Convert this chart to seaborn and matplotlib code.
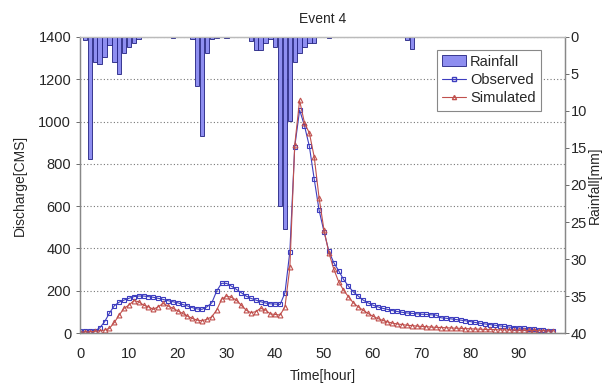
import matplotlib
matplotlib.use('Agg')

import numpy as np
import matplotlib.pyplot as plt
import seaborn as sns
from matplotlib.patches import Patch
from matplotlib.lines import Line2D

# --- data ---
hours = list(range(98))

observed = [8, 8, 9, 10, 24, 53, 94, 129, 146, 156,
            164, 172, 175, 175, 172, 169, 164, 159, 153, 148,
            143, 135, 128, 120, 114, 112, 124, 143, 199, 235,
            235, 222, 207, 191, 175, 164, 156, 148, 142, 138,
            137, 135, 190, 385, 880, 1055, 980, 883, 727, 580,
            480, 387, 333, 295, 254, 222, 195, 175, 156, 143,
            132, 124, 117, 112, 106, 102, 98, 95, 93, 91,
            89, 88, 86, 85, 72, 70, 67, 64, 61, 58,
            54, 50, 46, 43, 40, 37, 34, 31, 28, 26,
            24, 22, 20, 17, 15, 13, 11, 10]

simulated = [5, 5, 6, 8, 10, 14, 22, 50, 85, 117,
             132, 153, 148, 132, 124, 112, 124, 140, 128, 117,
             105, 93, 80, 69, 61, 58, 65, 77, 109, 159,
             175, 169, 156, 132, 109, 96, 101, 117, 109, 90,
             88, 85, 124, 310, 889, 1100, 993, 946, 832, 638,
             487, 380, 303, 243, 203, 172, 143, 124, 108, 93,
             80, 69, 60, 53, 47, 43, 40, 37, 35, 33,
             31, 30, 28, 27, 26, 25, 24, 23, 22, 21,
             20, 19, 18, 17, 17, 16, 15, 15, 14, 14,
             13, 13, 12, 12, 11, 11, 10, 10]

rain_hours = [1, 2, 3, 4, 5, 6, 7, 8, 9, 10, 11, 12, 19, 23, 24, 25, 26, 27, 28, 30,
              35, 36, 37, 38, 39, 40, 41, 42, 43, 44, 45, 46, 47, 48, 51, 67, 68]
rain_mm = [0.4, 16.5, 3.4, 3.7, 2.7, 1.1, 3.4, 5.0, 2.2, 1.4, 0.8, 0.3, 0.2, 0.3, 6.6, 13.4, 2.2, 0.3, 0.2, 0.2,
           0.5, 1.8, 1.8, 0.8, 0.3, 1.3, 22.8, 26.0, 11.4, 3.4, 2.2, 1.3, 0.8, 0.8, 0.2, 0.4, 1.6]

# --- style ---
sns.set_style('white')
plt.rcParams['font.family'] = ['Liberation Sans', 'DejaVu Sans']
plt.rcParams['font.size'] = 10

obs_color = '#3d3dbf'
sim_color = '#c0504d'
bar_color = '#8e8ef0'
bar_edge = '#202080'

fig = plt.figure(figsize=(6.12, 3.85), dpi=100)
ax1 = fig.add_axes([0.131, 0.135, 0.792, 0.769])
ax2 = ax1.twinx()

# discharge lines
sns.lineplot(x=hours, y=observed, ax=ax1, color=obs_color, linewidth=0.8,
             marker='s', markersize=3.5, markerfacecolor='none',
             markeredgecolor=obs_color, markeredgewidth=0.8)
sns.lineplot(x=hours, y=simulated, ax=ax1, color=sim_color, linewidth=0.8,
             marker='^', markersize=3.5, markerfacecolor='none',
             markeredgecolor=sim_color, markeredgewidth=0.8)

ax1.set_xlim(0, 99.4)
ax1.set_ylim(0, 1400)
ax1.set_yticks(range(0, 1401, 200))
ax1.set_xticks(range(0, 91, 10))
ax1.set_xticks(range(0, 99), minor=True)
ax1.grid(axis='y', linestyle=(0, (1, 2)), color='#777777', linewidth=0.8)
ax1.tick_params(axis='x', which='minor', direction='in', length=3, color='#555555', width=0.6)
ax1.tick_params(axis='x', which='major', direction='in', length=3, color='#555555', width=0.6,
                pad=10, labelsize=10.5)
ax1.tick_params(axis='y', direction='out', length=3, color='#555555', width=0.6, labelsize=10.5)
ax1.set_xlabel('Time[hour]', labelpad=6)
ax1.set_ylabel('Discharge[CMS]', labelpad=8)
ax1.set_title('Event 4', fontsize=10, pad=10)

# rainfall hanging from the top
ax2.bar(rain_hours, rain_mm, width=0.9, color=bar_color, edgecolor=bar_edge, linewidth=0.6)
ax2.set_ylim(40, 0)
ax2.set_yticks(range(0, 41, 5))
ax2.tick_params(axis='y', direction='out', length=3, color='#555555', width=0.6,
                pad=1, labelsize=10.5)
ax2.set_ylabel('Rainfall[mm]', labelpad=1)

for ax in (ax1, ax2):
    for side, sp in ax.spines.items():
        sp.set_color('#888888' if side != 'top' else '#bbbbbb')
        sp.set_linewidth(0.9)

handles = [
    Patch(facecolor=bar_color, edgecolor=bar_edge, linewidth=0.6),
    Line2D([], [], color=obs_color, marker='s', markersize=3, markerfacecolor='none', linewidth=0.8),
    Line2D([], [], color=sim_color, marker='^', markersize=3, markerfacecolor='none', linewidth=0.8),
]
leg = ax2.legend(handles, ['Rainfall', 'Observed', 'Simulated'], loc='upper right',
                 bbox_to_anchor=(0.965, 0.982), fancybox=False, framealpha=1,
                 edgecolor='#888888', fontsize=10.5, handlelength=1.6,
                 handletextpad=0.3, borderpad=0.35, labelspacing=0.3)
leg.get_frame().set_linewidth(0.8)

plt.savefig('out.png', dpi=100)
